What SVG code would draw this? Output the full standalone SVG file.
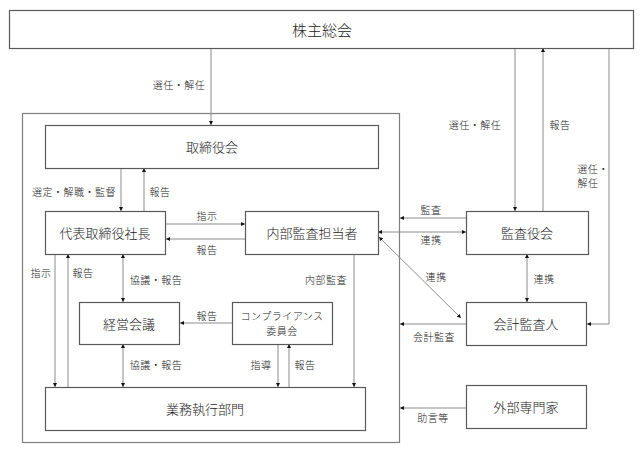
<svg xmlns="http://www.w3.org/2000/svg" width="644" height="458" viewBox="0 0 644 458">
<style>
.box{fill:#fff;stroke:#595959;stroke-width:1.2}
.frame{fill:none;stroke:#7f7f7f;stroke-width:1.2}
.ln{fill:none;stroke:#8c8c8c;stroke-width:1}
.t{font-family:"Liberation Sans","Noto Sans CJK JP",sans-serif;font-weight:300;fill:#222;text-anchor:middle;dominant-baseline:central}
.big{font-size:15px}
.mid{font-size:13px}
.sm{font-size:10px;letter-spacing:0.5px}
</style>
<defs>
<marker id="a" viewBox="0 0 4 4" refX="4" refY="2" markerWidth="4" markerHeight="4" markerUnits="userSpaceOnUse" orient="auto-start-reverse">
<path d="M0,0 L4,2 L0,4 Z" fill="#111"/>
</marker>
</defs>
<rect class="frame" x="22.5" y="113.5" width="377" height="329"/>
<g id="connectors">
<line class="ln" x1="211" y1="48" x2="211" y2="125" marker-end="url(#a)"/>
<line class="ln" x1="121" y1="168" x2="121" y2="211" marker-end="url(#a)"/>
<line class="ln" x1="144" y1="211" x2="144" y2="168" marker-end="url(#a)"/>
<line class="ln" x1="166" y1="224" x2="245" y2="224" marker-end="url(#a)"/>
<line class="ln" x1="245" y1="239" x2="166" y2="239" marker-end="url(#a)"/>
<line class="ln" x1="55" y1="254" x2="55" y2="387" marker-end="url(#a)"/>
<line class="ln" x1="68" y1="387" x2="68" y2="254" marker-end="url(#a)"/>
<line class="ln" x1="123" y1="254" x2="123" y2="302" marker-start="url(#a)" marker-end="url(#a)"/>
<line class="ln" x1="123" y1="344" x2="123" y2="387" marker-start="url(#a)" marker-end="url(#a)"/>
<line class="ln" x1="232" y1="323" x2="180" y2="323" marker-end="url(#a)"/>
<line class="ln" x1="278" y1="344" x2="278" y2="387" marker-end="url(#a)"/>
<line class="ln" x1="289" y1="387" x2="289" y2="344" marker-end="url(#a)"/>
<line class="ln" x1="354" y1="254" x2="354" y2="387" marker-end="url(#a)"/>
<line class="ln" x1="515" y1="48" x2="515" y2="211" marker-end="url(#a)"/>
<line class="ln" x1="543" y1="211" x2="543" y2="48" marker-end="url(#a)"/>
<polyline class="ln" points="609,48 609,324 587,324" marker-end="url(#a)"/>
<line class="ln" x1="466" y1="218" x2="400" y2="218" marker-end="url(#a)"/>
<line class="ln" x1="378" y1="232" x2="466" y2="232" marker-start="url(#a)" marker-end="url(#a)"/>
<line class="ln" x1="379" y1="237" x2="461" y2="318" marker-start="url(#a)" marker-end="url(#a)"/>
<line class="ln" x1="527" y1="254" x2="527" y2="302" marker-start="url(#a)" marker-end="url(#a)"/>
<line class="ln" x1="466" y1="324" x2="400" y2="324" marker-end="url(#a)"/>
<line class="ln" x1="466" y1="408" x2="400" y2="408" marker-end="url(#a)"/>
</g>
<g id="n-shareholders"><rect class="box" x="9.5" y="10.5" width="624" height="38"/><text class="t big" x="322" y="30">株主総会</text></g>
<g id="n-board"><rect class="box" x="45.5" y="125.5" width="333" height="43"/><text class="t mid" x="212" y="147">取締役会</text></g>
<g id="n-president"><rect class="box" x="45.5" y="211.5" width="120" height="43"/><text class="t mid" x="105" y="233">代表取締役社長</text></g>
<g id="n-internal-audit"><rect class="box" x="245.5" y="211.5" width="133" height="43"/><text class="t mid" x="312" y="233">内部監査担当者</text></g>
<g id="n-auditors"><rect class="box" x="466.5" y="211.5" width="122" height="43"/><text class="t mid" x="527" y="233">監査役会</text></g>
<g id="n-mgmt"><rect class="box" x="79.5" y="302.5" width="100" height="42"/><text class="t mid" x="129" y="324">経営会議</text></g>
<g id="n-compliance"><rect class="box" x="232.5" y="302.5" width="100" height="42"/><text class="t sm" x="282" y="316">コンプライアンス</text><text class="t sm" x="282" y="331">委員会</text></g>
<g id="n-accounting"><rect class="box" x="466.5" y="302.5" width="120" height="43"/><text class="t mid" x="526" y="324">会計監査人</text></g>
<g id="n-exec"><rect class="box" x="45.5" y="387.5" width="320" height="43"/><text class="t mid" x="205" y="409">業務執行部門</text></g>
<g id="n-external"><rect class="box" x="466.5" y="385.5" width="120" height="43"/><text class="t mid" x="526" y="407">外部専門家</text></g>
<g id="labels">
<text class="t sm" x="179" y="85">選任・解任</text>
<text class="t sm" x="74" y="192">選定・解職・監督</text>
<text class="t sm" x="160" y="192">報告</text>
<text class="t sm" x="207" y="216">指示</text>
<text class="t sm" x="207" y="250">報告</text>
<text class="t sm" x="41" y="273">指示</text>
<text class="t sm" x="83" y="273">報告</text>
<text class="t sm" x="156" y="280">協議・報告</text>
<text class="t sm" x="326" y="280">内部監査</text>
<text class="t sm" x="207" y="316">報告</text>
<text class="t sm" x="156" y="365">協議・報告</text>
<text class="t sm" x="261" y="365">指導</text>
<text class="t sm" x="305" y="365">報告</text>
<text class="t sm" x="475" y="125">選任・解任</text>
<text class="t sm" x="560" y="125">報告</text>
<text class="t sm" x="593" y="169">選任・</text>
<text class="t sm" x="588" y="183">解任</text>
<text class="t sm" x="431" y="210">監査</text>
<text class="t sm" x="431" y="240">連携</text>
<text class="t sm" x="436" y="277">連携</text>
<text class="t sm" x="544" y="279">連携</text>
<text class="t sm" x="434" y="337">会計監査</text>
<text class="t sm" x="433" y="418">助言等</text>
</g>
</svg>
